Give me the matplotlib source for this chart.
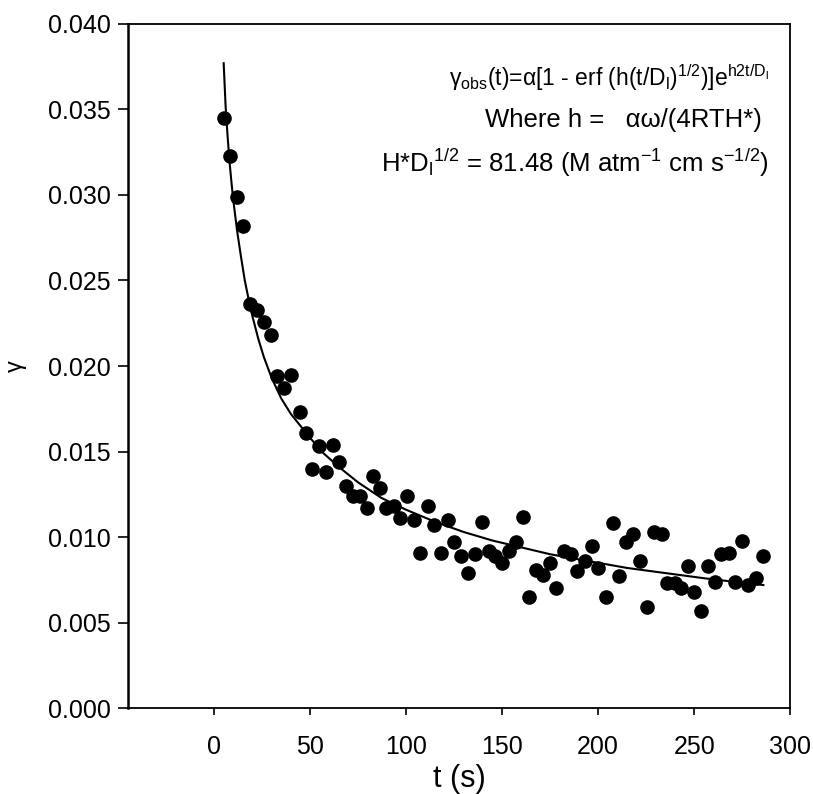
import matplotlib
matplotlib.use("Agg")
import matplotlib.pyplot as plt

plt.rcParams["font.family"] = ["Liberation Sans", "DejaVu Sans"]
plt.rcParams["mathtext.fontset"] = "custom"
plt.rcParams["mathtext.rm"] = "Liberation Sans"
plt.rcParams["mathtext.it"] = "Liberation Sans:italic"

# measured uptake coefficient vs exposure time
t_obs = [5.1, 8.4, 11.7, 15.3, 18.5, 22.1, 26.0, 29.8, 33.0, 36.5, 40.0,
         44.8, 47.7, 50.9, 54.7, 58.2, 61.7, 65.2, 68.8, 72.3, 75.8, 79.5,
         83.0, 86.4, 89.7, 93.6, 96.9, 100.5, 104.0, 107.3, 111.2, 114.5,
         118.1, 121.6, 125.0, 128.7, 132.2, 135.7, 139.5, 142.9, 146.4,
         149.9, 153.7, 157.2, 161.0, 164.0, 167.6, 171.5, 175.0, 178.0,
         182.0, 186.0, 189.0, 193.0, 196.6, 200.0, 204.0, 207.5, 211.0,
         214.7, 218.0, 222.0, 225.5, 229.0, 233.0, 236.0, 240.0, 243.0,
         247.0, 250.0, 253.7, 257.0, 261.0, 264.0, 268.0, 271.0, 275.0,
         278.0, 282.0, 285.6]
gamma_obs = [0.0345, 0.0323, 0.0299, 0.0282, 0.0236, 0.0233, 0.0226, 0.0218,
             0.0194, 0.0187, 0.0195, 0.0173, 0.0161, 0.0140, 0.0153, 0.0138,
             0.0154, 0.0144, 0.0130, 0.0124, 0.0124, 0.0117, 0.0136, 0.0129,
             0.0117, 0.0118, 0.0111, 0.0124, 0.0110, 0.0091, 0.0118, 0.0107,
             0.0091, 0.0110, 0.0097, 0.0089, 0.0079, 0.0090, 0.0109, 0.0092,
             0.0089, 0.0085, 0.0092, 0.0097, 0.0112, 0.0065, 0.0081, 0.0078,
             0.0085, 0.0070, 0.0092, 0.0090, 0.0080, 0.0086, 0.0095, 0.0082,
             0.0065, 0.0108, 0.0077, 0.0097, 0.0102, 0.0086, 0.0059, 0.0103,
             0.0102, 0.0073, 0.0073, 0.0070, 0.0083, 0.0068, 0.0057, 0.0083,
             0.0074, 0.0090, 0.0091, 0.0074, 0.0098, 0.0072, 0.0076, 0.0089]

# fitted curve
t_fit = [5, 6, 7, 8, 9, 10, 12, 14, 16, 18, 20, 23, 26, 30, 35, 40, 45, 50,
         57, 65, 75, 87, 100, 115, 130, 145, 160, 175, 195, 215, 235, 255,
         270, 286]
gamma_fit = [0.0377, 0.0352, 0.0335, 0.0320, 0.0308, 0.0297, 0.0279, 0.0264,
             0.0250, 0.0239, 0.0229, 0.0216, 0.0205, 0.0193, 0.0181, 0.0172,
             0.0165, 0.0158, 0.0149, 0.0141, 0.0132, 0.0123, 0.0116, 0.0109,
             0.0103, 0.0098, 0.0094, 0.0090, 0.0086, 0.0082, 0.0079, 0.0076,
             0.0074, 0.0072]

x_ticks = [0, 50, 100, 150, 200, 250, 300]
y_ticks = [0.000, 0.005, 0.010, 0.015, 0.020, 0.025, 0.030, 0.035, 0.040]

fig = plt.figure(figsize=(8.13, 7.94), dpi=100)
ax = fig.add_axes([0.157, 0.108, 0.815, 0.862])

ax.plot(t_fit, gamma_fit, color="black", lw=1.5)
ax.plot(t_obs, gamma_obs, "o", color="black", ms=9.5, mec="black")

ax.set_xlim(-45, 300)
ax.set_ylim(0, 0.040)
ax.set_xticks(x_ticks)
ax.set_yticks(y_ticks)
ax.set_yticklabels([f"{v:.3f}" for v in y_ticks])
ax.tick_params(axis="both", direction="out", labelsize=18, width=1.2)
ax.tick_params(axis="y", length=7, pad=5)
ax.tick_params(axis="x", length=5, pad=14)
for side in ["top", "right", "bottom"]:
    ax.spines[side].set_linewidth(1.3)
ax.spines["left"].set_linewidth(1.8)

ax.set_xlabel("t (s)", fontsize=22, labelpad=4)
ax.set_ylabel("γ", fontsize=17, labelpad=15)

ax.text(0.968, 0.922,
        r"γ$\mathregular{_{obs}}$(t)=α[1 - erf (h(t/D$\mathregular{_l}$)"
        r"$\mathregular{^{1/2}}$)]e$\mathregular{^{h2t/D_l}}$",
        transform=ax.transAxes, ha="right", va="center", fontsize=16.5)
ax.text(0.957, 0.860, "Where h =   αω/(4RTH*)",
        transform=ax.transAxes, ha="right", va="center", fontsize=18.5)
ax.text(0.968, 0.797,
        r"H*D$\mathregular{_l{}^{1/2}}$ = 81.48 (M atm$\mathregular{^{-1}}$"
        r" cm s$\mathregular{^{-1/2}}$)",
        transform=ax.transAxes, ha="right", va="center", fontsize=18.5)

fig.savefig("out.png", dpi=100)
